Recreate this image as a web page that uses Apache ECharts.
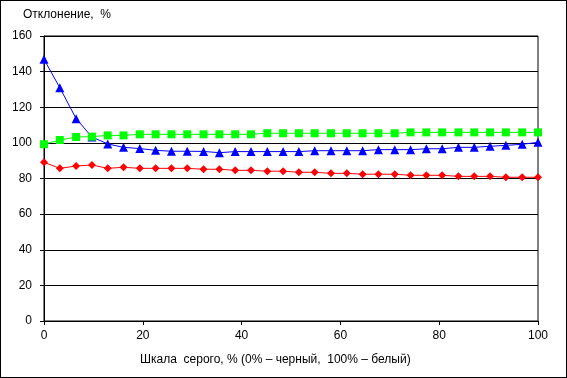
<!DOCTYPE html>
<html><head><meta charset="utf-8">
<script src="https://cdn.jsdelivr.net/npm/echarts@6/dist/echarts.min.js"></script>
<style>html,body{margin:0;padding:0;background:#fff}#c{width:567px;height:378px;box-sizing:border-box;border:1px solid #000}</style>
</head><body><div id="c"></div>
<script>
const xValues = [0,3.2,6.5,9.7,12.9,16.1,19.4,22.6,25.8,29.0,32.3,35.5,38.7,41.9,45.2,48.4,51.6,54.8,58.1,61.3,64.5,67.7,71.0,74.2,77.4,80.6,83.9,87.1,90.3,93.5,96.8,100];
const blue = [146.9,131.0,113.6,103.3,99.4,97.5,96.8,95.8,95.3,95.3,95.2,94.5,95.1,95.1,95.1,95.1,95.1,95.6,95.6,95.6,95.6,96.2,96.2,96.2,96.7,96.7,97.5,97.5,98.1,98.6,99.2,100.3];
const green = [99.2,101.6,103.3,103.5,104.2,104.2,104.8,104.8,104.8,104.8,104.8,104.8,104.8,104.8,105.4,105.4,105.4,105.4,105.4,105.4,105.4,105.4,105.4,105.9,105.9,105.9,105.9,105.9,105.9,105.9,105.9,105.9];
const red = [89.1,85.7,87.0,87.6,85.7,86.3,85.7,85.7,85.7,85.7,85.2,85.2,84.6,84.6,84.1,84.1,83.5,83.5,82.9,82.9,82.4,82.4,82.4,81.8,81.8,81.8,81.2,81.2,81.2,80.7,80.7,80.7];
const yTitle = 'Отклонение,  %';
const xTitle = 'Шкала  серого, % (0% – черный,  100% – белый)';
const pair = a => a.map((v,i)=>[xValues[i], v]);
const font = 'Arial, "Liberation Sans", sans-serif';
const chart = echarts.init(document.getElementById('c'));
chart.setOption({
  animation:false,
  grid:{left:43,right:28,top:35,bottom:56,show:true,borderColor:'#000',borderWidth:1,containLabel:false},
  graphic:[
    {type:'text',left:22,top:8,style:{text:yTitle,font:'12px '+font,fill:'#000'}},
    {type:'text',left:139,top:353,style:{text:xTitle,font:'12px '+font,fill:'#000'}}
  ],
  xAxis:{type:'value',min:0,max:100,interval:20,
    axisLine:{show:true,lineStyle:{color:'#000',width:1}},
    axisTick:{show:true,inside:false,length:4,lineStyle:{color:'#000'}},
    axisLabel:{color:'#000',fontSize:12,fontFamily:font,margin:9},
    splitLine:{show:false}},
  yAxis:{type:'value',min:0,max:160,interval:20,
    axisLine:{show:true,lineStyle:{color:'#000',width:1}},
    axisTick:{show:true,inside:false,length:4,lineStyle:{color:'#000'}},
    axisLabel:{color:'#000',fontSize:12,fontFamily:font,margin:12},
    splitLine:{show:true,lineStyle:{color:'#000',width:1}}},
  series:[
    {type:'line',data:pair(red),symbol:'diamond',symbolSize:8,itemStyle:{color:'#FF0000'},lineStyle:{color:'#FF0000',width:1}},
    {type:'line',data:pair(blue),symbol:'triangle',symbolSize:9,itemStyle:{color:'#0000FF'},lineStyle:{color:'#0000FF',width:1}},
    {type:'line',data:pair(green),symbol:'rect',symbolSize:8,itemStyle:{color:'#00FF00'},lineStyle:{color:'#00FF00',width:1}}
  ]
});
</script></body></html>
